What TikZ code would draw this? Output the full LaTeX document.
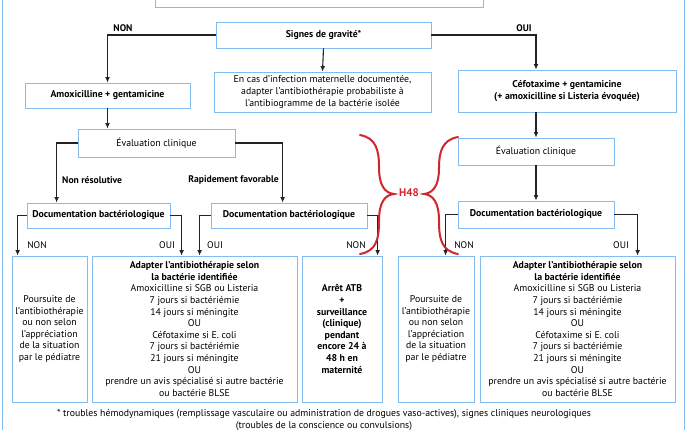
\documentclass[tikz,border=0pt]{standalone}
\usepackage{fontspec}
\setmainfont{PT Sans}
\usetikzlibrary{arrows.meta}
\definecolor{boxblue}{RGB}{130,188,240}
\definecolor{linkgray}{RGB}{35,35,35}
\definecolor{bracered}{RGB}{208,38,45}
\tikzset{
  box/.style={
    draw=boxblue,
    line width=0.8pt,
    align=center,
    inner sep=0pt,
    font=\fontsize{9.8}{11.6}\selectfont
  },
  box-bold/.style={
    box,
    font=\fontsize{9.8}{11.6}\selectfont\bfseries
  },
  link/.style={
    draw=linkgray,
    line width=1.1pt,
    -{Latex[length=5.5pt,width=4.8pt]}
  },
  tag/.style={inner sep=1pt, font=\fontsize{9.6}{10}\selectfont},
  tag-bold/.style={tag, font=\fontsize{9.6}{10}\selectfont\bfseries},
  brace/.style={draw=bracered, line width=2pt, line cap=round}
}

\begin{document}
\begin{tikzpicture}[x=1pt,y=-1pt]
  \clip (0,0) rectangle (686,430);
  % outer frame and top box (cut off)
  \draw[boxblue, line width=1pt] (2,-20) rectangle (684,450);
  \node[box, minimum width=328pt, minimum height=30pt] (top) at (319,-8) {};
  % first level
  \node[box-bold, minimum width=215pt, minimum height=26pt] (signes) at (323.5,35) {Signes de gravité*};
  \node[box-bold, minimum width=165pt, minimum height=25pt] (amox) at (107.5,95.5) {Amoxicilline + gentamicine};
  \node[box, minimum width=217pt, minimum height=40pt] (infect) at (322.5,92)
    {En cas d’infection maternelle documentée,\\adapter l’antibiothérapie probabiliste à\\l’antibiogramme de la bactérie isolée};
  \node[box-bold, minimum width=218pt, minimum height=42pt] (cefo) at (567,91)
    {Céfotaxime + gentamicine\\(+ amoxicilline si Listeria évoquée)};
  % evaluation
  \node[box, minimum width=157pt, minimum height=28pt] (eval1) at (156.5,143) {Évaluation clinique};
  \node[box, minimum width=156pt, minimum height=27pt] (eval2) at (536,151.5) {Évaluation clinique};
  % documentation
  \node[box-bold, minimum width=143pt, minimum height=25pt] (doc1) at (98.5,215.5) {Documentation bactériologique};
  \node[box-bold, minimum width=156pt, minimum height=25pt] (doc2) at (289,215.5) {Documentation bactériologique};
  \node[box-bold, minimum width=156pt, minimum height=27pt] (doc3) at (536,214.5) {Documentation bactériologique};
  % results
  \node[box, minimum width=75pt, minimum height=146pt] (resA) at (49.5,329)
    {Poursuite de\\l’antibiothérapie\\ou non selon\\l’appréciation\\de la situation\\par le pédiatre};
  \node[box, minimum width=205pt, minimum height=146pt] (resB) at (194.5,329)
    {\textbf{Adapter l’antibiothérapie selon}\\\textbf{la bactérie identifiée}\\Amoxicilline si SGB ou Listeria\\7 jours si bactériémie\\14 jours si méningite\\OU\\Céfotaxime si E. coli\\7 jours si bactériémie\\21 jours si méningite\\OU\\prendre un avis spécialisé si autre bactérie\\ou bactérie BLSE};
  \node[box-bold, minimum width=80pt, minimum height=146pt] (resC) at (342,329)
    {Arrêt ATB\\+\\surveillance\\(clinique)\\pendant\\encore 24 à\\48 h en\\maternité};
  \node[box, minimum width=76pt, minimum height=146pt] (resD) at (436,329)
    {Poursuite de\\l’antibiothérapie\\ou non selon\\l’appréciation\\de la situation\\par le pédiatre};
  \node[box, minimum width=195pt, minimum height=146pt] (resE) at (577.5,329)
    {\textbf{Adapter l’antibiothérapie selon}\\\textbf{la bactérie identifiée}\\Amoxicilline si SGB ou Listeria\\7 jours si bactériémie\\14 jours si méningite\\OU\\Céfotaxime si E. coli\\7 jours si bactériémie\\21 jours si méningite\\OU\\prendre un avis spécialisé si autre bactérie\\ou bactérie BLSE};
  % connectors
  \draw[link] (signes.west) -| (amox.north);
  \draw[link] (signes.east) -| (eval2.north |- cefo.north);
  \draw[link] (signes.south) -- (infect.north);
  \draw[link] (amox.south) -- (amox.south |- eval1.north);
  \draw[link] (eval1.west) -| ([xshift=30pt]doc1.north west);
  \draw[link] (eval1.east) -| ([xshift=72pt]doc2.north west);
  \draw[link] (eval2.north |- cefo.south) -- (eval2.north);
  \draw[link] (eval2.south) -- (doc3.north);
  \draw[link] (doc1.west) -| ([xshift=6pt]resA.north west);
  \draw[link] (doc1.east) -| ([xshift=90pt]resB.north west);
  \draw[link] (doc2.west) -| ([xshift=108pt]resB.north west);
  \draw[link] (doc2.east) -| ([xshift=76pt]resC.north west);
  \draw[link] (doc3.west) -| ([xshift=48pt]resD.north west);
  \draw[link] (doc3.east) -| ([xshift=158pt]resE.north west);
  % labels
  \node[tag-bold] (non0) at (123,28) {NON};
  \node[tag-bold] (oui0) at (524,28) {OUI};
  \node[tag-bold, anchor=west] (nonres) at (61,180) {Non résolutive};
  \node[tag-bold, anchor=east] (rapfav) at (280,180) {Rapidement favorable};
  \node[tag] (non1) at (37,245) {NON};
  \node[tag] (oui1) at (167,245) {OUI};
  \node[tag] (oui2) at (215,245) {OUI};
  \node[tag] (non2) at (356,245) {NON};
  \node[tag] (non3) at (464,245) {NON};
  \node[tag] (oui3) at (621,245) {OUI};
  % H48 braces
  \draw[brace] (360,135) .. controls (376,138) and (379,150) .. (379,167)
    .. controls (379,186) and (385,193) .. (394,194)
    .. controls (385,195) and (379,202) .. (379,221)
    .. controls (379,240) and (376,251) .. (360,254);
  \draw[brace] (458,137) .. controls (442,140) and (439,152) .. (439,168)
    .. controls (439,186) and (433,193) .. (424,194)
    .. controls (433,195) and (439,202) .. (439,221)
    .. controls (439,240) and (442,251) .. (458,254);
  \node[text=bracered, font=\fontsize{11}{12}\selectfont\bfseries] (h48) at (409,193) {H48};
  % footnote
  \node[align=center, font=\fontsize{9.8}{12}\selectfont] (note) at (324,420)
    {* troubles hémodynamiques (remplissage vasculaire ou administration de drogues vaso-actives), signes cliniques neurologiques\\(troubles de la conscience ou convulsions)};
\end{tikzpicture}
\end{document}
